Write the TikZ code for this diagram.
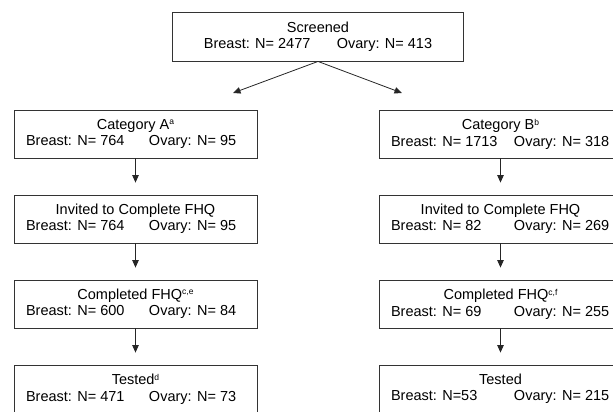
\documentclass[tikz,border=0pt]{standalone}
\usepackage{fontspec}
\setmainfont{Liberation Sans}
\usetikzlibrary{arrows.meta}

% second line of a box: breast count, then ovary count at a fixed tab
\newcommand{\twocounts}[2]{\makebox[219pt][l]{\makebox[123pt][l]{#1}#2}}
% small footnote mark
\newcommand{\fnmark}[1]{\raisebox{4.5pt}{\fontsize{8.5}{8.5}\selectfont #1}}

\begin{document}
\begin{tikzpicture}[x=1pt, y=1pt,
        stage/.style={draw=black!80, line width=0.8pt, inner sep=0pt,
            minimum width=243pt, minimum height=48pt, align=center,
            font=\fontsize{14.5}{16.5}\selectfont},
        flow/.style={draw=black!85, line width=0.8pt,
            -{Triangle[length=7.5pt, width=6.5pt]}}]
    \useasboundingbox (0,0) rectangle (613,412);
    \clip (0,0) rectangle (613,412);

    \node[stage, minimum width=291pt, minimum height=48.7pt] (screened) at (318, 375.3)
        {Screened\\ \makebox[133pt][l]{Breast: N= 2477}Ovary: N= 413};

    % left column
    \node[stage] (catA)    at (135.5, 278) {Category A\fnmark{a}\\ \twocounts{Breast: N= 764}{Ovary: N= 95}};
    \node[stage] (invA)    at (135.5, 193) {Invited to Complete FHQ\\ \twocounts{Breast: N= 764}{Ovary: N= 95}};
    \node[stage] (compA)   at (135.5, 108) {Completed FHQ\fnmark{c,e}\\ \twocounts{Breast: N= 600}{Ovary: N= 84}};
    \node[stage] (testA)   at (135.5, 23)  {Tested\fnmark{d}\\ \twocounts{Breast: N= 471}{Ovary: N= 73}};

    % right column
    \node[stage] (catB)    at (500.5, 278) {Category B\fnmark{b}\\ \twocounts{Breast: N= 1713}{Ovary: N= 318}};
    \node[stage] (invB)    at (500.5, 193) {Invited to Complete FHQ\\ \twocounts{Breast: N= 82}{Ovary: N= 269}};
    \node[stage] (compB)   at (500.5, 108) {Completed FHQ\fnmark{c,f}\\ \twocounts{Breast: N= 69}{Ovary: N= 255}};
    \node[stage] (testB)   at (500.5, 23)  {Tested\\ \twocounts{Breast: N=53}{Ovary: N= 215}};

    \coordinate (splitA) at (233, 319);
    \coordinate (splitB) at (402, 319);
    \draw[flow] (screened.south) -- (splitA);
    \draw[flow] (screened.south) -- (splitB);

    \draw[flow, shorten >=12pt] (catA) -- (invA);
    \draw[flow, shorten >=12pt] (invA) -- (compA);
    \draw[flow, shorten >=12pt] (compA) -- (testA);
    \draw[flow, shorten >=12pt] (catB) -- (invB);
    \draw[flow, shorten >=12pt] (invB) -- (compB);
    \draw[flow, shorten >=12pt] (compB) -- (testB);
\end{tikzpicture}
\end{document}
